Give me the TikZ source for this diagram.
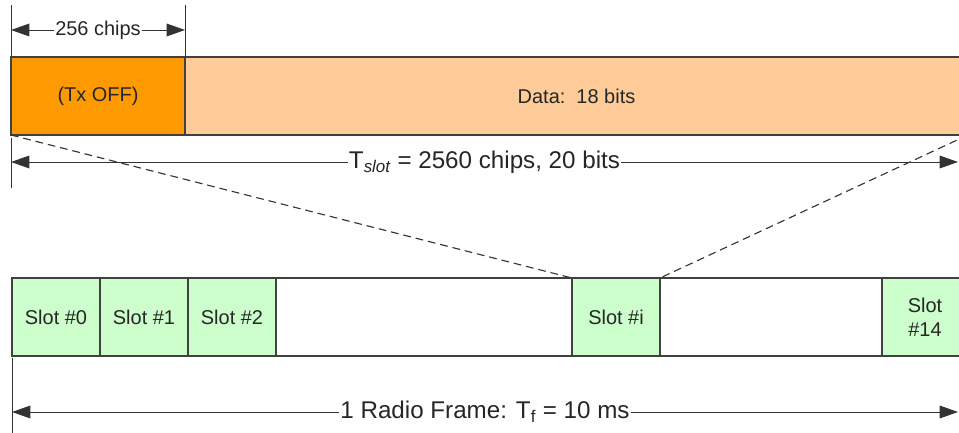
\documentclass[tikz,border=0pt]{standalone}
\usepackage{fontspec}
\setmainfont{Liberation Sans}
\usepackage{xcolor}
\usepackage{tikz}
\usetikzlibrary{arrows.meta}
\definecolor{offorange}{HTML}{FF9900}
\definecolor{dataorange}{HTML}{FFCC99}
\definecolor{slotgreen}{HTML}{CCFFCC}
\definecolor{edgegray}{HTML}{404040}
\tikzset{every node/.append style={font=\fontsize{14.2}{17}\selectfont, text=black!85}}
\tikzset{
  fieldbox/.style={draw=edgegray, line width=1.1pt, anchor=north west, inner sep=0pt, outer sep=0pt,
                   minimum height=19.5mm, align=center},
  slotbox/.style={fieldbox, fill=slotgreen, minimum width=22mm},
  dimline/.style={draw=black!80, line width=0.7pt},
  dimlabel/.style={fill=white, inner sep=1pt},
  biglabel/.style={dimlabel, font=\fontsize{17.2}{20}\selectfont}
}

\begin{document}
\begin{tikzpicture}[x=0.25mm, y=-0.25mm, >={Triangle[length=13pt, width=9pt]}]
    \useasboundingbox (0,0) rectangle (959,433);
    % one slot
    \node[fieldbox, fill=offorange, minimum width=43.5mm] (txoff) at (11,57) {(Tx OFF)};
    \node[fieldbox, fill=dataorange, minimum width=195.75mm] (data) at (txoff.north east) {Data:\ \ 18 bits};
    % radio frame
    \node[slotbox] (slot0) at (12,278) {Slot \#0};
    \node[slotbox] (slot1) at (slot0.north east) {Slot \#1};
    \node[slotbox] (slot2) at (slot1.north east) {Slot \#2};
    \node[slotbox] (sloti) at (572,278) {Slot \#i};
    \node[slotbox, minimum width=21.5mm] (slot14) at (882,278) {Slot\\\#14};
    \draw[edgegray, line width=1.1pt] (slot2.north east) -- (sloti.north west)
        (slot2.south east) -- (sloti.south west)
        (sloti.north east) -- (slot14.north west)
        (sloti.south east) -- (slot14.south west);
    % zoom lines
    \draw[dash pattern=on 5.5pt off 3.5pt, line width=0.8pt, black!80] (txoff.south west) -- (sloti.north west);
    \draw[dash pattern=on 5.5pt off 3.5pt, line width=0.8pt, black!80] (data.south east) -- (sloti.north east);
    % dimensions
    \draw[dimline] (txoff.north west) -- ++(0,-52);
    \draw[dimline] (txoff.north east) -- ++(0,-52);
    \draw[dimline] (txoff.south west) ++(0,3) -- ++(0,50);
    \draw[dimline] (slot0.south west) ++(0,2) -- (12,433);
    \coordinate (chipsL) at (11,30);
    \coordinate (chipsR) at (185,30);
    \coordinate (slotL) at (11,162);
    \coordinate (slotR) at (958,162);
    \coordinate (frameL) at (12,412);
    \coordinate (frameR) at (958,412);
    \draw[dimline, <->] (chipsL) -- node[dimlabel] {256 chips} (chipsR);
    \draw[dimline, <->] (slotL) -- node[biglabel] {T\textsubscript{\itshape slot} = 2560 chips, 20 bits} (slotR);
    \draw[dimline, <->] (frameL) -- node[biglabel] {1 Radio Frame: T\textsubscript{f} = 10 ms} (frameR);
\end{tikzpicture}
\end{document}
